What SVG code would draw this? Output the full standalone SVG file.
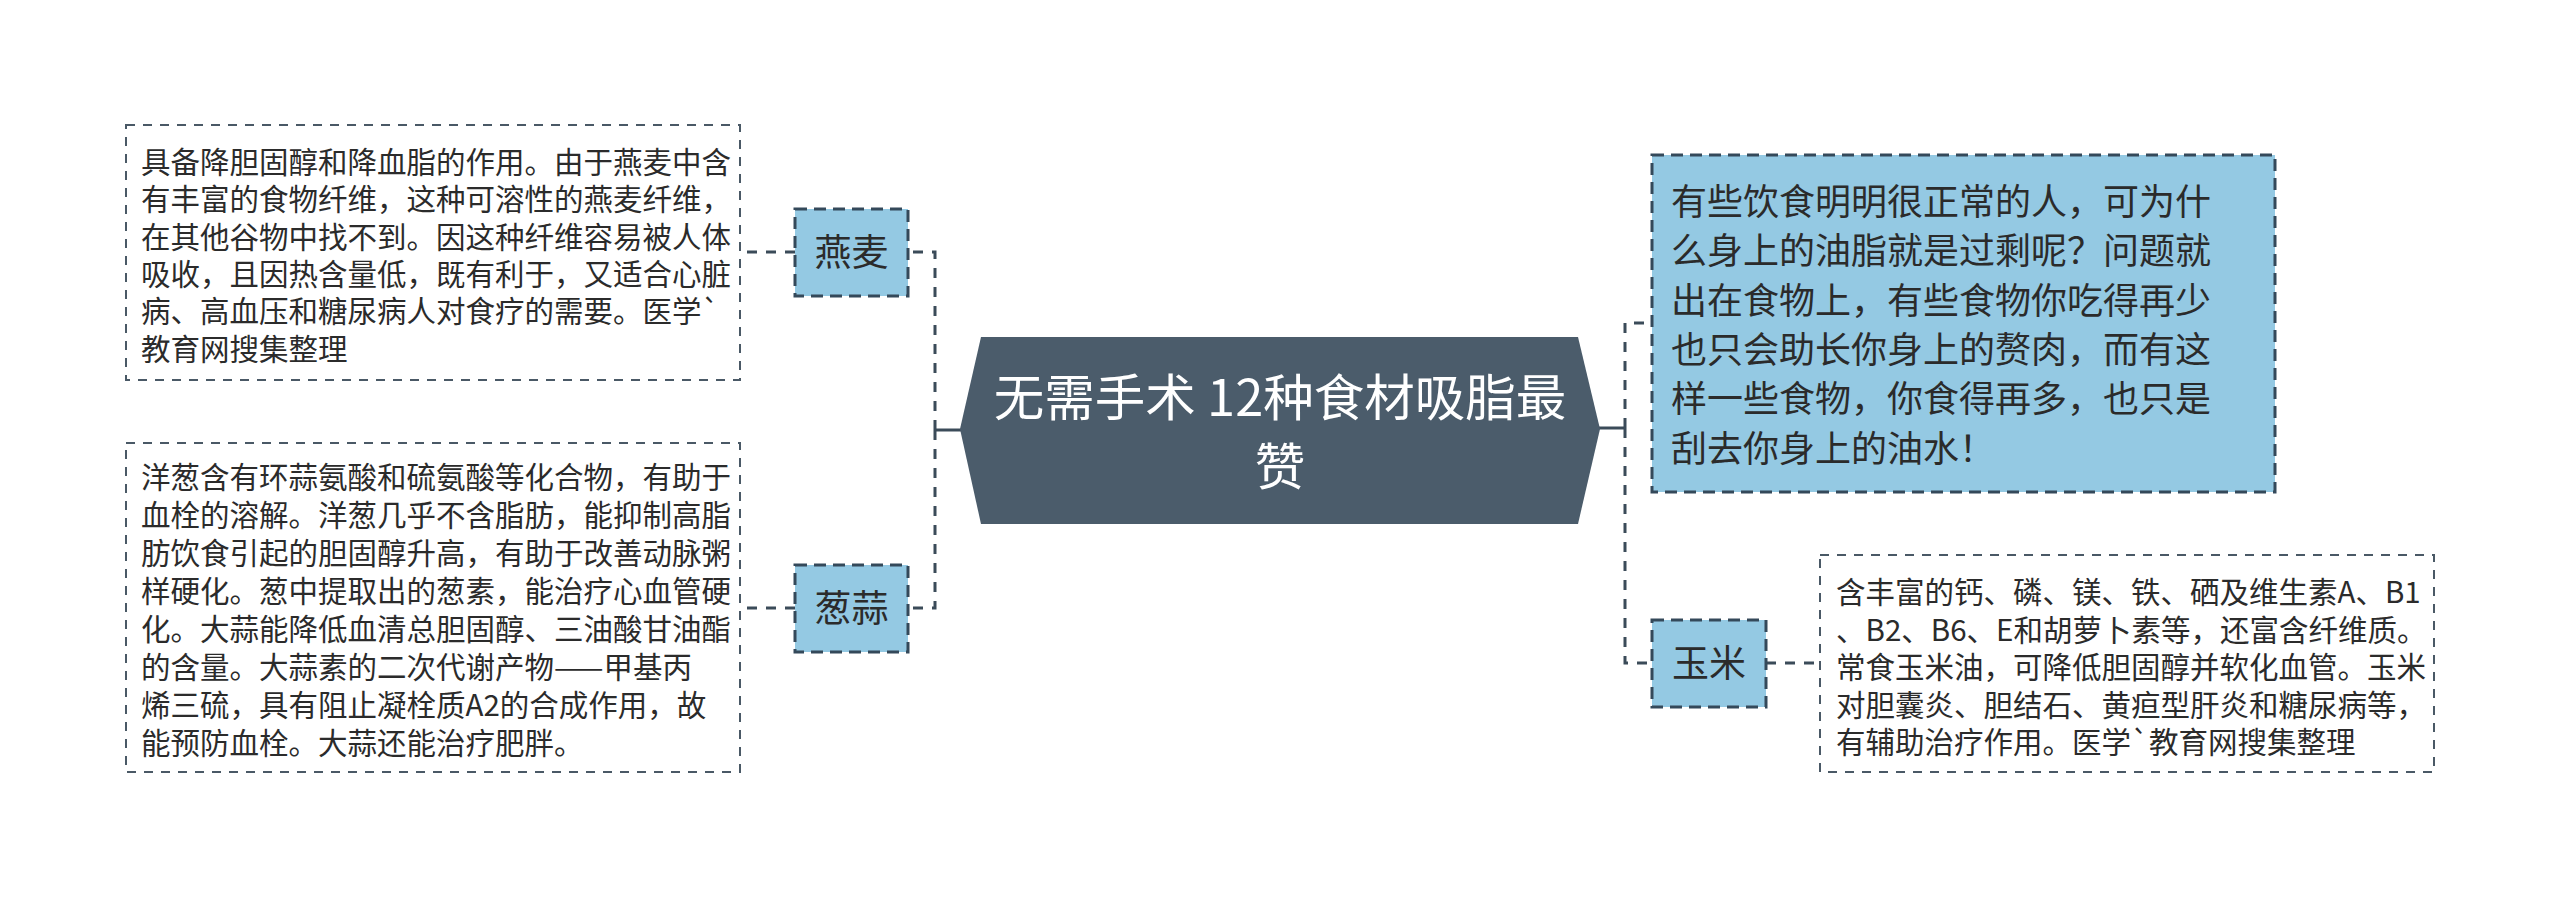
<svg xmlns="http://www.w3.org/2000/svg" width="2560" height="899" viewBox="0 0 2560 899">
<style>
.conn{fill:none;stroke:#3b4b59;stroke-width:3;stroke-dasharray:10 9}
.solid{fill:none;stroke:#3b4b59;stroke-width:3}
.detail{fill:#ffffff;stroke:#4a5966;stroke-width:2;stroke-dasharray:9 8}
.sub{fill:#94c9e3;stroke:#34495a;stroke-width:3;stroke-dasharray:12 7}
.t{font-family:"Noto Sans CJK SC","Noto Sans",sans-serif;fill:#2b2b2b}
.d{font-size:29.5px}
.n{font-size:37px;text-anchor:middle}
.c{font-family:"Noto Sans CJK SC","Noto Sans",sans-serif;font-size:50.5px;fill:#ffffff;text-anchor:middle}
</style>
<rect width="2560" height="899" fill="#ffffff"/>
<g id="connectors">
<path class="solid" d="M935,430 H961"/>
<path class="conn" d="M935,430 V252 H908"/>
<path class="conn" d="M935,430 V608 H908"/>
<path class="conn" d="M795,252 H740"/>
<path class="conn" d="M795,608 H740"/>
<path class="solid" d="M1599,428 H1625"/>
<path class="conn" d="M1625,428 V323 H1652"/>
<path class="conn" d="M1625,428 V663 H1652"/>
<path class="conn" d="M1766,663 H1820"/>
</g>
<g id="center">
<polygon points="960,429 981,337 1578,337 1600,429 1578,524 981,524" fill="#4b5c6b"/>
<text class="c" x="1280" y="416">无需手术 12种食材吸脂最</text>
<text class="c" x="1280" y="485">赞</text>
</g>
<g id="node-yanmai">
<rect class="sub" x="795" y="209" width="113" height="87"/>
<text class="t n" x="851.5" y="266">燕麦</text>
</g>
<g id="detail-yanmai">
<rect class="detail" x="126" y="125" width="614" height="255"/>
<text class="t d">
<tspan x="141" y="173">具备降胆固醇和降血脂的作用。由于燕麦中含</tspan>
<tspan x="141" y="210.3">有丰富的食物纤维，这种可溶性的燕麦纤维，</tspan>
<tspan x="141" y="247.6">在其他谷物中找不到。因这种纤维容易被人体</tspan>
<tspan x="141" y="284.9">吸收，且因热含量低，既有利于，又适合心脏</tspan>
<tspan x="141" y="322.2">病、高血压和糖尿病人对食疗的需要。医学`</tspan>
<tspan x="141" y="359.5">教育网搜集整理</tspan>
</text>
</g>
<g id="node-congsuan">
<rect class="sub" x="795" y="565" width="113" height="87"/>
<text class="t n" x="851.5" y="622">葱蒜</text>
</g>
<g id="detail-congsuan">
<rect class="detail" x="126" y="443" width="614" height="329"/>
<text class="t d">
<tspan x="141" y="488">洋葱含有环蒜氨酸和硫氨酸等化合物，有助于</tspan>
<tspan x="141" y="526">血栓的溶解。洋葱几乎不含脂肪，能抑制高脂</tspan>
<tspan x="141" y="564">肪饮食引起的胆固醇升高，有助于改善动脉粥</tspan>
<tspan x="141" y="602">样硬化。葱中提取出的葱素，能治疗心血管硬</tspan>
<tspan x="141" y="640">化。大蒜能降低血清总胆固醇、三油酸甘油酯</tspan>
<tspan x="141" y="678">的含量。大蒜素的二次代谢产物——甲基丙</tspan>
<tspan x="141" y="716">烯三硫，具有阻止凝栓质A2的合成作用，故</tspan>
<tspan x="141" y="754">能预防血栓。大蒜还能治疗肥胖。</tspan>
</text>
</g>
<g id="node-intro">
<rect class="sub" x="1652" y="155" width="623" height="337"/>
<text class="t" style="font-size:36px">
<tspan x="1671" y="215">有些饮食明明很正常的人，可为什</tspan>
<tspan x="1671" y="264.3">么身上的油脂就是过剩呢？问题就</tspan>
<tspan x="1671" y="313.6">出在食物上，有些食物你吃得再少</tspan>
<tspan x="1671" y="362.9">也只会助长你身上的赘肉，而有这</tspan>
<tspan x="1671" y="412.2">样一些食物，你食得再多，也只是</tspan>
<tspan x="1671" y="461.5">刮去你身上的油水！</tspan>
</text>
</g>
<g id="node-yumi">
<rect class="sub" x="1652" y="620" width="114" height="87"/>
<text class="t n" x="1709" y="677">玉米</text>
</g>
<g id="detail-yumi">
<rect class="detail" x="1820" y="555" width="614" height="217"/>
<text class="t d">
<tspan x="1836" y="603">含丰富的钙、磷、镁、铁、硒及维生素A、B1</tspan>
<tspan x="1836" y="640.5">、B2、B6、E和胡萝卜素等，还富含纤维质。</tspan>
<tspan x="1836" y="678">常食玉米油，可降低胆固醇并软化血管。玉米</tspan>
<tspan x="1836" y="715.5">对胆囊炎、胆结石、黄疸型肝炎和糖尿病等，</tspan>
<tspan x="1836" y="753">有辅助治疗作用。医学`教育网搜集整理</tspan>
</text>
</g>
</svg>
